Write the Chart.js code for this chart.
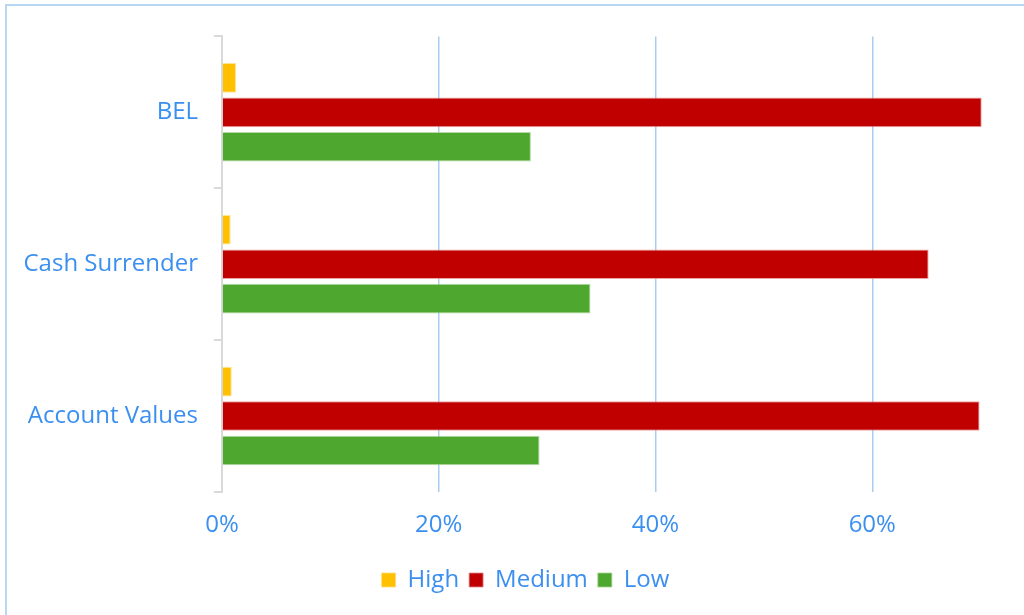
<!DOCTYPE html>
<html>
<head>
<meta charset="utf-8">
<script src="https://cdn.jsdelivr.net/npm/chart.js@4/dist/chart.umd.min.js"></script>
<style>
    html, body { margin: 0; padding: 0; background: #fff; overflow: hidden; }
    #frame { position: absolute; left: 5px; top: 4px; width: 1060px; height: 620px; border: 2px solid #b7d6f4; }
</style>
</head>
<body>
<div id="frame"><canvas id="riskChart" width="1060" height="620"></canvas></div>
<script>
// ---- donnees du graphique ----
const categories = ['BEL', 'Cash Surrender', 'Account Values'];
const highValues = [1.3, 0.8, 0.9];
const mediumValues = [70.1, 65.2, 69.9];
const lowValues = [28.5, 34.0, 29.3];
const tickValues = [0, 20, 40, 60];

const blueText = '#3a8ff0';
const gridBlue = '#a9cdf2';

// petit decalage de la legende vers la droite
const legendShift = {
    id: 'legendShift',
    afterLayout(chart) {
        chart.legend.left += 10;
        chart.legend.right += 10;
    }
};

const ctx = document.getElementById('riskChart').getContext('2d');
Chart.defaults.font.family = "'Open Sans', sans-serif";
Chart.defaults.color = blueText;

new Chart(ctx, {
    type: 'bar',
    data: {
        labels: categories,
        datasets: [{
            label: 'High',
            data: highValues,
            backgroundColor: '#ffc000',
            borderColor: 'rgba(255,220,120,0.8)',
            borderWidth: 1
        }, {
            label: 'Medium',
            data: mediumValues,
            backgroundColor: '#c00000',
            borderColor: 'rgba(230,140,140,0.8)',
            borderWidth: 1
        }, {
            label: 'Low',
            data: lowValues,
            backgroundColor: '#4ea72e',
            borderColor: 'rgba(160,210,140,0.8)',
            borderWidth: 1
        }]
    },
    options: {
        indexAxis: 'y',
        responsive: false,
        animation: false,
        categoryPercentage: 0.68,
        barPercentage: 0.86,
        layout: { padding: { top: 26, right: 43, left: 0, bottom: 24 } },
        scales: {
            x: {
                min: 0,
                max: 74,
                afterBuildTicks: axis => { axis.ticks = tickValues.map(v => ({ value: v })); },
                afterFit: scale => { scale.height = 66; },
                ticks: {
                    callback: v => v + '%',
                    color: blueText,
                    font: { size: 24 },
                    padding: 19
                },
                grid: {
                    color: c => (c.tick && c.tick.value === 0) ? 'rgba(0,0,0,0)' : gridBlue,
                    lineWidth: 1.5,
                    drawTicks: false
                },
                border: { display: false }
            },
            y: {
                afterFit: scale => { scale.width = 215; },
                ticks: {
                    color: blueText,
                    font: { size: 24 },
                    padding: 16
                },
                grid: {
                    drawOnChartArea: false,
                    drawTicks: true,
                    tickLength: 8,
                    color: '#d9d9d9',
                    lineWidth: 2
                },
                border: { display: true, color: '#d9d9d9', width: 2 }
            }
        },
        plugins: {
            legend: {
                position: 'bottom',
                labels: {
                    boxWidth: 14,
                    boxHeight: 14,
                    padding: 10,
                    color: blueText,
                    font: { size: 24 }
                }
            },
            tooltip: { enabled: false }
        }
    },
    plugins: [legendShift]
});
</script>
</body>
</html>
